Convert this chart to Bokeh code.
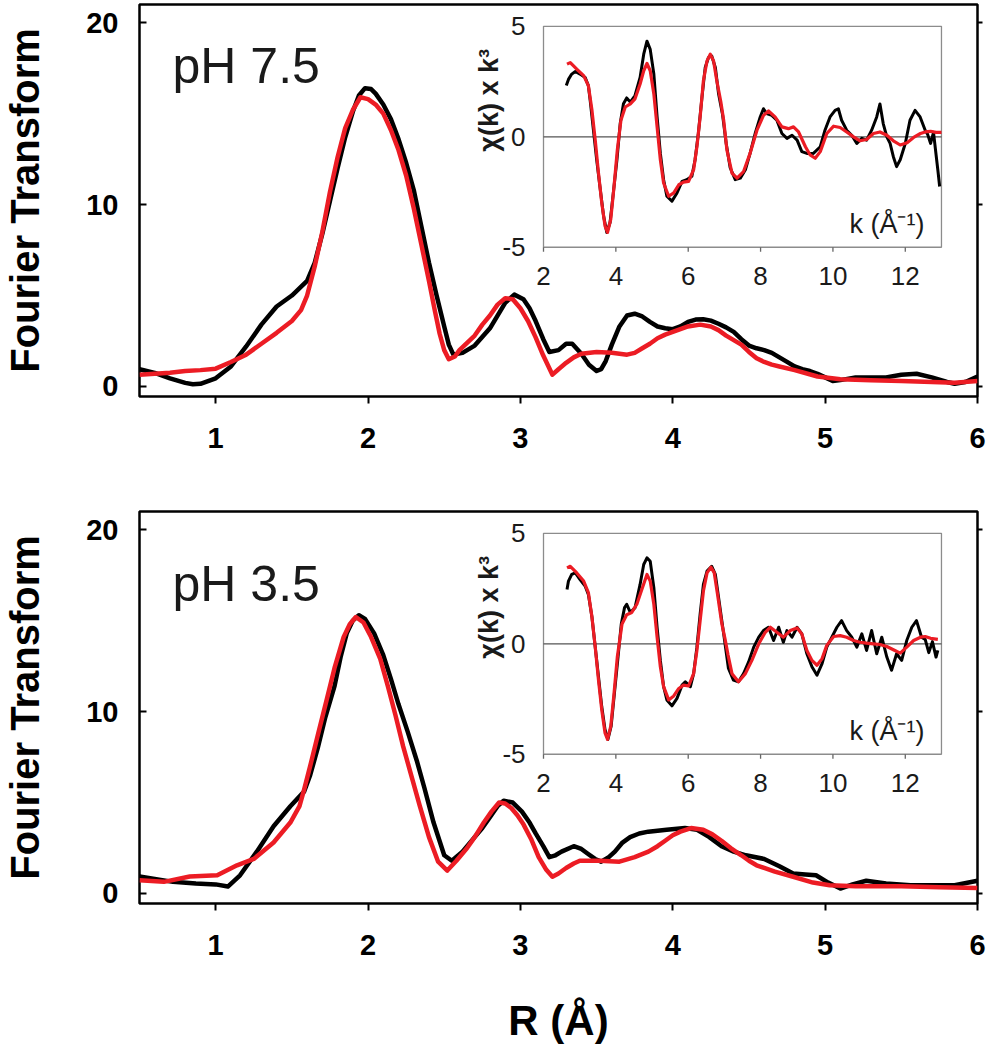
from bokeh.plotting import figure
from bokeh.layouts import column
from bokeh.models import Range1d, FixedTicker, LinearAxis
from bokeh.core.properties import value
from bokeh.embed import file_html
from bokeh.resources import INLINE
import math

# ---------------- data ----------------
# pH 7.5 : Fourier transform (black = data, red = fit)
top_R_data = [0.50,0.60,0.70,0.80,0.85,0.90,1.00,1.10,1.20,1.30,1.40,1.50,1.60,1.65,1.70,1.75,
              1.80,1.85,1.90,1.94,1.98,2.02,2.05,2.10,2.15,2.20,2.25,2.30,2.35,2.40,2.45,2.50,
              2.53,2.56,2.62,2.70,2.80,2.85,2.90,2.96,3.02,3.06,3.10,3.15,3.19,3.25,3.30,3.34,
              3.40,3.45,3.50,3.53,3.56,3.60,3.65,3.70,3.75,3.80,3.85,3.90,3.95,4.00,4.05,4.10,
              4.15,4.20,4.25,4.30,4.35,4.40,4.45,4.50,4.55,4.60,4.65,4.70,4.75,4.80,4.85,4.90,
              4.95,5.00,5.05,5.10,5.20,5.30,5.40,5.50,5.60,5.70,5.80,5.85,5.92,6.00]
top_FT_data = [0.95,0.75,0.45,0.2,0.12,0.15,0.45,1.1,2.2,3.4,4.4,5.0,5.8,6.8,8.4,10.2,
               12.0,13.7,15.1,16.0,16.4,16.35,16.1,15.5,14.7,13.6,12.3,10.8,8.8,6.8,5.0,3.3,
               2.3,1.75,1.85,2.25,3.2,3.9,4.6,5.05,4.8,4.3,3.6,2.6,1.9,2.0,2.35,2.35,
               1.8,1.2,0.85,0.95,1.4,2.3,3.3,3.9,4.0,3.85,3.55,3.3,3.2,3.15,3.3,3.55,
               3.68,3.7,3.62,3.45,3.25,3.0,2.6,2.25,2.1,2.0,1.85,1.6,1.35,1.1,0.95,0.85,
               0.7,0.5,0.3,0.35,0.5,0.5,0.5,0.65,0.7,0.5,0.25,0.15,0.25,0.55]
top_R_fit = [0.50,0.60,0.70,0.80,0.90,1.00,1.10,1.20,1.30,1.40,1.50,1.56,1.60,1.65,1.70,1.75,
             1.80,1.85,1.90,1.95,2.00,2.05,2.10,2.15,2.20,2.25,2.30,2.35,2.40,2.44,2.47,2.50,
             2.53,2.57,2.60,2.65,2.70,2.75,2.80,2.85,2.90,2.95,3.00,3.05,3.10,3.15,3.21,3.25,
             3.30,3.35,3.40,3.50,3.60,3.70,3.75,3.80,3.85,3.90,3.95,4.00,4.05,4.10,4.18,4.25,
             4.30,4.35,4.40,4.45,4.50,4.55,4.60,4.65,4.70,4.80,4.95,5.10,5.30,5.50,5.70,5.85,6.00]
top_FT_fit = [0.65,0.7,0.75,0.85,0.9,0.98,1.35,1.75,2.35,2.95,3.6,4.2,5.0,6.6,8.5,10.7,
              12.6,14.2,15.2,15.9,15.8,15.5,15.0,14.1,13.0,11.6,9.8,7.8,5.8,4.1,2.9,2.0,
              1.5,1.65,2.0,2.4,2.8,3.4,3.9,4.5,4.85,4.8,4.3,3.6,2.7,1.7,0.65,0.95,
              1.3,1.6,1.8,1.9,1.85,1.75,1.85,2.1,2.35,2.65,2.85,3.0,3.15,3.3,3.4,3.3,
              3.1,2.8,2.55,2.3,1.9,1.55,1.35,1.2,1.1,0.9,0.55,0.4,0.35,0.3,0.25,0.2,0.3]

# pH 3.5 : Fourier transform
bot_R_data = [0.50,0.72,0.87,1.00,1.08,1.16,1.27,1.38,1.49,1.58,1.62,1.67,1.72,1.78,1.82,1.86,
              1.90,1.94,1.98,2.04,2.10,2.15,2.20,2.26,2.32,2.37,2.43,2.50,2.55,2.62,2.69,2.75,
              2.80,2.85,2.89,2.95,3.01,3.06,3.10,3.15,3.19,3.23,3.27,3.35,3.40,3.44,3.49,3.53,
              3.58,3.62,3.67,3.72,3.78,3.84,3.96,4.08,4.16,4.24,4.32,4.40,4.48,4.60,4.70,4.79,
              4.87,4.94,5.02,5.10,5.18,5.27,5.40,5.56,5.70,5.85,6.00]
bot_FT_data = [0.93,0.64,0.55,0.5,0.38,1.0,2.3,3.7,4.8,5.6,6.5,8.0,9.7,11.4,13.0,14.3,
               15.0,15.3,15.1,14.3,13.1,11.8,10.4,8.9,7.3,5.8,3.9,2.1,1.8,2.3,3.0,3.6,
               4.2,4.8,5.1,5.0,4.5,3.9,3.3,2.6,2.0,2.1,2.3,2.6,2.45,2.2,1.9,1.75,
               2.0,2.3,2.8,3.1,3.3,3.4,3.5,3.6,3.5,3.1,2.6,2.3,2.1,1.9,1.5,1.1,
               1.05,1.0,0.6,0.27,0.5,0.7,0.55,0.45,0.45,0.45,0.7]
bot_R_fit = [0.50,0.66,0.83,1.01,1.14,1.25,1.38,1.49,1.55,1.58,1.62,1.67,1.73,1.78,1.84,1.88,
             1.92,1.97,2.02,2.08,2.13,2.18,2.23,2.29,2.34,2.40,2.46,2.52,2.58,2.65,2.70,2.76,
             2.81,2.86,2.90,2.94,2.98,3.02,3.07,3.12,3.17,3.21,3.25,3.30,3.35,3.39,3.52,3.65,
             3.75,3.84,3.90,3.95,4.00,4.05,4.12,4.20,4.26,4.32,4.38,4.45,4.50,4.55,4.67,4.79,
             4.92,5.03,5.20,5.50,5.75,6.00]
bot_FT_fit = [0.73,0.64,0.93,1.0,1.55,1.9,2.8,3.9,4.8,5.7,7.0,8.7,10.7,12.4,14.1,14.8,
              15.2,14.9,14.1,12.9,11.4,9.8,8.1,6.3,4.8,3.1,1.75,1.26,1.8,2.5,3.1,3.9,
              4.5,5.0,4.95,4.7,4.3,3.8,3.0,2.0,1.3,0.92,1.1,1.4,1.65,1.8,1.8,1.75,
              2.0,2.3,2.6,2.9,3.2,3.4,3.6,3.5,3.25,2.9,2.5,2.1,1.8,1.55,1.2,0.92,
              0.6,0.45,0.4,0.4,0.35,0.3]

# pH 7.5 inset : chi(k) x k^3
top_k_data = [2.63,2.69,2.78,2.88,3.01,3.15,3.24,3.29,3.38,3.47,3.57,3.66,3.75,3.84,3.93,4.03,
              4.12,4.21,4.30,4.40,4.53,4.67,4.77,4.86,4.95,5.05,5.14,5.23,5.32,5.41,5.55,5.69,
              5.83,5.96,6.10,6.19,6.28,6.38,6.47,6.56,6.65,6.75,6.84,6.95,7.05,7.16,7.30,7.44,
              7.58,7.71,7.85,7.99,8.08,8.17,8.31,8.45,8.59,8.73,8.87,9.01,9.14,9.28,9.46,9.65,
              9.78,9.92,10.06,10.15,10.24,10.38,10.52,10.66,10.80,10.93,11.07,11.21,11.30,11.39,
              11.49,11.58,11.67,11.76,11.86,12.00,12.13,12.27,12.41,12.55,12.62,12.70,12.78,
              12.85,12.90,12.95]
top_chi_data = [2.32,2.6,2.84,2.96,2.84,2.69,2.32,1.65,0.3,-1.04,-2.39,-3.58,-4.33,-3.88,-2.54,-1.04,
                0.6,1.5,1.76,1.57,1.87,2.69,3.74,4.33,3.96,2.84,0.9,-0.75,-1.94,-2.69,-2.91,-2.54,
                -2.02,-1.94,-1.79,-1.04,0.15,1.79,3.14,3.59,3.66,3.14,1.94,1.0,-0.3,-1.4,-1.94,-1.87,
                -1.49,-0.75,0.15,0.9,1.27,1.05,0.97,0.75,0.15,-0.07,0.07,-0.15,-0.67,-0.75,-0.75,-0.45,
                0.3,0.9,1.2,1.27,0.75,0.3,0.07,-0.3,-0.07,-0.15,0.3,0.9,1.49,0.6,
                0.0,-0.3,-0.9,-1.35,-1.04,-0.3,0.75,1.2,0.9,0.3,0.1,-0.3,0.2,
                -0.8,-1.5,-2.25]
top_k_fit = [2.65,2.74,2.92,3.11,3.24,3.34,3.43,3.52,3.61,3.70,3.77,3.86,3.95,4.04,4.14,4.26,
             4.40,4.53,4.67,4.77,4.86,4.95,5.05,5.14,5.23,5.32,5.46,5.60,5.74,5.87,6.01,6.15,
             6.24,6.33,6.42,6.52,6.61,6.70,6.79,6.90,6.98,7.07,7.21,7.35,7.53,7.71,7.90,8.08,
             8.22,8.40,8.59,8.77,8.91,9.05,9.24,9.37,9.51,9.65,9.83,10.02,10.20,10.38,10.57,
             10.75,10.93,11.12,11.30,11.49,11.67,11.86,12.05,12.23,12.42,12.55,12.70,12.85,13.0]
top_chi_fit = [3.29,3.36,3.06,2.77,2.32,1.2,-0.15,-1.64,-2.99,-4.03,-4.33,-3.73,-2.24,-0.6,0.75,1.35,
               1.49,1.72,2.39,2.99,3.32,2.99,1.94,0.45,-1.04,-2.09,-2.69,-2.54,-2.17,-2.05,-2.02,-1.49,
               -0.45,0.9,2.54,3.44,3.74,3.44,2.54,1.6,0.75,-0.6,-1.64,-1.87,-1.57,-0.75,0.3,0.97,
               1.17,0.9,0.45,0.37,0.45,0.22,-0.45,-0.82,-0.97,-0.67,0.15,0.48,0.42,0.22,0.0,
               -0.18,-0.12,0.15,0.22,0.07,-0.18,-0.37,-0.27,-0.03,0.15,0.22,0.25,0.2,0.2]

# pH 3.5 inset
bot_k_data = [2.65,2.69,2.78,2.88,3.01,3.15,3.24,3.34,3.43,3.52,3.61,3.70,3.78,3.87,3.96,4.06,
              4.15,4.24,4.30,4.40,4.53,4.67,4.77,4.86,4.95,5.05,5.14,5.23,5.32,5.41,5.55,5.69,
              5.83,5.92,6.06,6.15,6.24,6.33,6.42,6.52,6.65,6.75,6.84,6.98,7.11,7.25,7.39,7.53,
              7.67,7.81,7.95,8.08,8.22,8.36,8.50,8.63,8.73,8.87,9.01,9.14,9.28,9.42,9.56,9.70,
              9.83,9.97,10.11,10.24,10.38,10.52,10.66,10.80,10.93,11.07,11.21,11.35,11.49,11.62,
              11.76,11.90,12.04,12.18,12.31,12.45,12.55,12.65,12.75,12.85,12.90]
bot_chi_data = [2.46,2.84,3.14,3.21,2.91,2.62,2.24,1.2,-0.15,-1.49,-2.84,-3.88,-4.33,-3.73,-2.24,-0.6,
                0.9,1.64,1.79,1.42,1.64,2.69,3.59,3.89,3.74,2.54,0.75,-0.75,-1.94,-2.54,-2.81,-2.47,
                -1.87,-1.72,-1.94,-1.35,-0.15,1.35,2.69,3.29,3.51,3.14,2.09,0.45,-1.1,-1.64,-1.72,-1.35,
                -0.82,-0.15,0.3,0.6,0.75,0.15,0.75,0.07,0.6,0.3,0.75,0.45,-0.45,-1.04,-1.42,-0.9,
                -0.15,0.3,0.75,1.05,0.6,0.3,-0.15,0.45,-0.3,0.6,-0.45,0.3,-0.6,-1.2,
                -0.45,-0.75,0.15,0.75,1.05,0.3,0.2,-0.4,0.1,-0.6,-0.3]
bot_k_fit = [2.65,2.74,2.92,3.11,3.24,3.34,3.43,3.52,3.61,3.70,3.77,3.86,3.95,4.04,4.17,4.30,
             4.44,4.58,4.72,4.86,4.95,5.05,5.14,5.23,5.32,5.46,5.60,5.74,5.87,6.01,6.15,6.24,
             6.33,6.42,6.52,6.63,6.72,6.81,6.93,7.02,7.10,7.21,7.39,7.58,7.76,7.95,8.13,8.27,
             8.45,8.63,8.82,9.01,9.14,9.28,9.42,9.56,9.70,9.83,10.02,10.20,10.38,10.57,10.75,
             10.93,11.12,11.30,11.49,11.67,11.86,12.04,12.23,12.42,12.55,12.70,12.90]
bot_chi_fit = [3.44,3.51,3.21,2.84,2.32,1.2,-0.15,-1.64,-2.99,-4.03,-4.33,-3.73,-2.24,-0.6,0.9,1.32,
               1.42,1.79,2.47,3.14,2.84,1.79,0.3,-1.04,-1.94,-2.54,-2.36,-2.02,-1.87,-1.91,-1.35,-0.3,
               1.05,2.39,3.21,3.47,3.21,2.24,0.9,0.2,-0.5,-1.35,-1.72,-1.35,-0.75,0.0,0.52,0.75,
               0.52,0.3,0.6,0.72,0.45,-0.3,-0.75,-0.97,-0.67,-0.07,0.33,0.37,0.3,0.15,0.07,
               0.03,0.0,-0.03,-0.12,-0.27,-0.42,-0.15,0.15,0.3,0.33,0.25,0.2]

main_x_ticks = [1, 2, 3, 4, 5, 6]
main_y_ticks = [0, 10, 20]
inset_x_ticks = [2, 4, 6, 8, 10, 12]
inset_y_ticks = [5, 0, -5]
panel_labels = ["pH 7.5", "pH 3.5"]

# ---------------- styling ----------------
FONT = "Liberation Sans"
RED = "#ec1c24"
FRAME_W = 838
LEFT = 139
RIGHT = 16
W = LEFT + FRAME_W + RIGHT
# inset placement as fractions of the main frame
FL, FR, FT, FB = 0.4821, 0.957, 0.0558, 0.6193
KSPAN = (13 - 2) / (FR - FL)
K0 = 2 - FL * KSPAN
CSPAN = 10 / (FB - FT)
CTOP = 5 + FT * CSPAN


def make_panel(label, R_d, v_d, R_f, v_f, k_d, c_d, k_f, c_f, height, top, bottom, lab_y, xlabel):
    p = figure(width=W, height=height, x_range=Range1d(0.5, 6), y_range=Range1d(-0.55, 21.0),
               output_backend="svg", toolbar_location=None,
               min_border_left=LEFT, min_border_right=RIGHT,
               min_border_top=top, min_border_bottom=bottom)
    p.background_fill_color = "white"
    p.border_fill_color = "white"
    p.xgrid.visible = False
    p.ygrid.visible = False
    p.outline_line_color = "black"
    p.outline_line_width = 2.5
    p.outline_line_alpha = 1.0

    xa = p.xaxis[0]
    xa.ticker = FixedTicker(ticks=main_x_ticks)
    xa.axis_line_color = None
    xa.major_tick_in = 0
    xa.major_tick_out = 7
    xa.major_tick_line_width = 2
    xa.major_tick_line_color = "black"
    xa.minor_tick_line_color = None
    xa.major_label_text_font = FONT
    xa.major_label_text_font_style = "bold"
    xa.major_label_text_font_size = "29px"
    xa.major_label_text_color = "black"
    xa.major_label_standoff = 24
    if xlabel:
        xa.axis_label = xlabel
        xa.axis_label_text_font = FONT
        xa.axis_label_text_font_style = "bold"
        xa.axis_label_text_font_size = "42px"
        xa.axis_label_text_color = "black"
        xa.axis_label_standoff = 39

    ya = p.yaxis[0]
    ya.ticker = FixedTicker(ticks=main_y_ticks)
    ya.axis_line_color = None
    ya.major_tick_in = 7
    ya.major_tick_out = 0
    ya.major_tick_line_width = 2
    ya.major_tick_line_color = "black"
    ya.minor_tick_line_color = None
    ya.major_label_text_font = FONT
    ya.major_label_text_font_style = "bold"
    ya.major_label_text_font_size = "29px"
    ya.major_label_text_color = "black"
    ya.major_label_standoff = 21
    ya.axis_label = "Fourier Transform"
    ya.axis_label_text_font = FONT
    ya.axis_label_text_font_style = "bold"
    ya.axis_label_text_font_size = "40px"
    ya.axis_label_text_color = "black"
    ya.axis_label_standoff = 36

    ra = LinearAxis(ticker=FixedTicker(ticks=main_y_ticks), axis_line_color=None,
                    major_tick_in=0, major_tick_out=5, major_tick_line_width=2,
                    minor_tick_line_color=None, major_label_text_font_size="1px",
                    major_label_overrides={t: "" for t in main_y_ticks}, major_label_standoff=0)
    p.add_layout(ra, "right")

    # main curves
    p.line(R_d, v_d, line_color="black", line_width=4.5, line_join="round")
    p.line(R_f, v_f, line_color=RED, line_width=4.5, line_join="round")

    p.text(x=[0.717], y=[lab_y], text=[label], text_font=value(FONT), text_font_size="50px",
           text_color="#1a1a1a", text_align="left", text_baseline="alphabetic")

    # inset drawn on secondary scales
    p.extra_x_ranges = {"kx": Range1d(K0, K0 + KSPAN)}
    p.extra_y_ranges = {"ky": Range1d(CTOP - CSPAN, CTOP)}
    kw = dict(x_range_name="kx", y_range_name="ky")
    p.quad(left=[2], right=[13], bottom=[-5], top=[5], fill_color="white",
           line_color="#8c8c8c", line_width=1.3, **kw)
    p.segment(x0=[2], y0=[0], x1=[13], y1=[0], line_color="#555555", line_width=1.3, **kw)
    p.segment(x0=inset_x_ticks, y0=[-5] * len(inset_x_ticks), x1=inset_x_ticks,
              y1=[-5.2] * len(inset_x_ticks), line_color="#666666", line_width=1.3, **kw)
    p.text(x=inset_x_ticks, y=[-5] * len(inset_x_ticks), text=[str(t) for t in inset_x_ticks],
           text_font=value(FONT), text_font_size="26px", text_color="#1a1a1a",
           text_align="center", text_baseline="top", y_offset=20, **kw)
    p.text(x=[2] * len(inset_y_ticks), y=inset_y_ticks, text=[str(t) for t in inset_y_ticks],
           text_font=value(FONT), text_font_size="26px", text_color="#1a1a1a",
           text_align="right", text_baseline="middle", x_offset=-18, **kw)
    p.text(x=[2], y=[1.65], text=["\u03c7(k) x k\u00b3"], angle=math.pi / 2,
           text_font=value(FONT), text_font_size="27px", text_font_style="bold",
           text_color="#1a1a1a", text_align="center", text_baseline="middle",
           x_offset=-54, **kw)
    p.text(x=[12.53], y=[-3.96], text=["k (\u00c5\u207b\u00b9)"], text_font=value(FONT),
           text_font_size="27px", text_color="#1a1a1a", text_align="right",
           text_baseline="alphabetic", **kw)
    p.line(k_d, c_d, line_color="black", line_width=3, line_join="round", **kw)
    p.line(k_f, c_f, line_color=RED, line_width=3.2, line_join="round", **kw)
    return p


p1 = make_panel(panel_labels[0], top_R_data, top_FT_data, top_R_fit, top_FT_fit,
                top_k_data, top_chi_data, top_k_fit, top_chi_fit,
                height=482, top=4, bottom=86, lab_y=17.6, xlabel=None)
p2 = make_panel(panel_labels[1], bot_R_data, bot_FT_data, bot_R_fit, bot_FT_fit,
                bot_k_data, bot_chi_data, bot_k_fit, bot_chi_fit,
                height=564, top=29, bottom=143, lab_y=17.0, xlabel="R (\u00c5)")

layout = column(p1, p2, spacing=0)
open("out.html", "w").write(file_html(layout, INLINE))
